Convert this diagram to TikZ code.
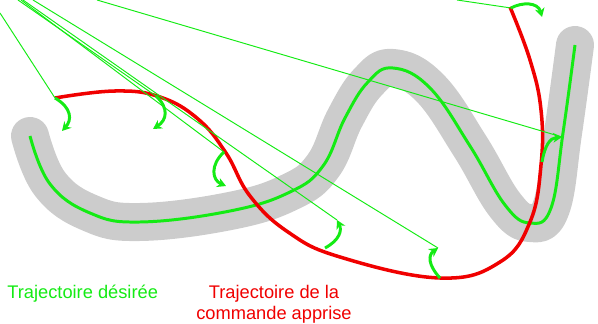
\documentclass[tikz,border=0pt]{standalone}
\usepackage{fontspec}
\setmainfont{Liberation Sans}
\usetikzlibrary{arrows.meta}
\definecolor{vert}{RGB}{20,235,20}
\definecolor{rouge}{RGB}{240,0,0}
\definecolor{bande}{RGB}{204,204,204}
\begin{document}
\begin{tikzpicture}[x=0.02cm,y=-0.02cm,
  tube/.style={draw=bande,line width=0.76cm,line cap=round,line join=round},
  desiree/.style={draw=vert,line width=1.7pt},
  apprise/.style={draw=rouge,line width=2pt},
  correction/.style={draw=vert,line width=1.7pt,-{Stealth[length=5pt,width=5.5pt]}},
  rayon/.style={draw=vert,line width=0.55pt}]
\useasboundingbox (0,0) rectangle (598,324);
\clip (0,0) rectangle (598,324);
\draw[tube] plot[smooth,tension=0.7] coordinates {(30,136) (50,184) (90,213) (140,222) (230,211) (290,192) (323,166) (345,118) (368,82) (393,68) (430,88) (470,146) (505,205) (530,223) (551,208) (563,133) (575,45)};
\draw[desiree] plot[smooth,tension=0.7] coordinates {(30,136) (50,184) (90,213) (140,222) (230,211) (290,192) (323,166) (345,118) (368,82) (393,68) (430,88) (470,146) (505,205) (530,223) (551,208) (563,133) (575,45)};
\draw[apprise] plot[smooth,tension=0.7] coordinates {(55,98) (115,91) (160,97) (198,119) (226,153) (250,196) (288,232) (340,257) (440,278) (500,262) (530,222) (541,165) (541,110) (530,60) (510,7)};
\coordinate (a1) at (55,98);
\coordinate (a2) at (156,96);
\coordinate (a3) at (224,152);
\coordinate (a4) at (325,248);
\coordinate (a5) at (440,278);
\coordinate (a6) at (542,162);
\coordinate (a7) at (511,8);
\coordinate (b4) at (337,220);
\coordinate (b5) at (438,248);
\coordinate (b6) at (562,137);
\coordinate (s1) at (0,13);
\coordinate (s2) at (18,0);
\coordinate (s3) at (21,0);
\coordinate (s4) at (23,0);
\coordinate (s5) at (33,0);
\coordinate (s6) at (97,0);
\coordinate (s7) at (457,0);
\draw[rayon] (s1) -- (a1);
\draw[rayon] (s2) -- (a2);
\draw[rayon] (s3) -- (a3);
\draw[rayon] (s4) -- (b4);
\draw[rayon] (s5) -- (b5);
\draw[rayon] (s6) -- (b6);
\draw[rayon] (s7) -- (a7);
\draw[correction] (a1) .. controls (72,108) and (72,120) .. (62,131);
\draw[correction] (a2) .. controls (169,108) and (167,120) .. (153,129);
\draw[correction] (a3) .. controls (210,165) and (212,180) .. (226,186);
\draw[correction] (a4) .. controls (340,240) and (342,230) .. (b4);
\draw[correction] (a5) .. controls (428,265) and (428,255) .. (b5);
\draw[correction] (a6) .. controls (545,145) and (550,138) .. (b6);
\draw[correction] (a7) .. controls (522,2) and (538,2) .. (542,17);
\begin{scope}[every node/.style={font=\fontsize{10.4}{11.9}\selectfont,inner sep=0pt}]
  \node[text=vert,anchor=base west] (desire) at (7,298) {Trajectoire désirée};
  \node[text=rouge,align=center,anchor=base] (commande) at (274,319) {Trajectoire de la\\commande apprise};
\end{scope}
\end{tikzpicture}
\end{document}
